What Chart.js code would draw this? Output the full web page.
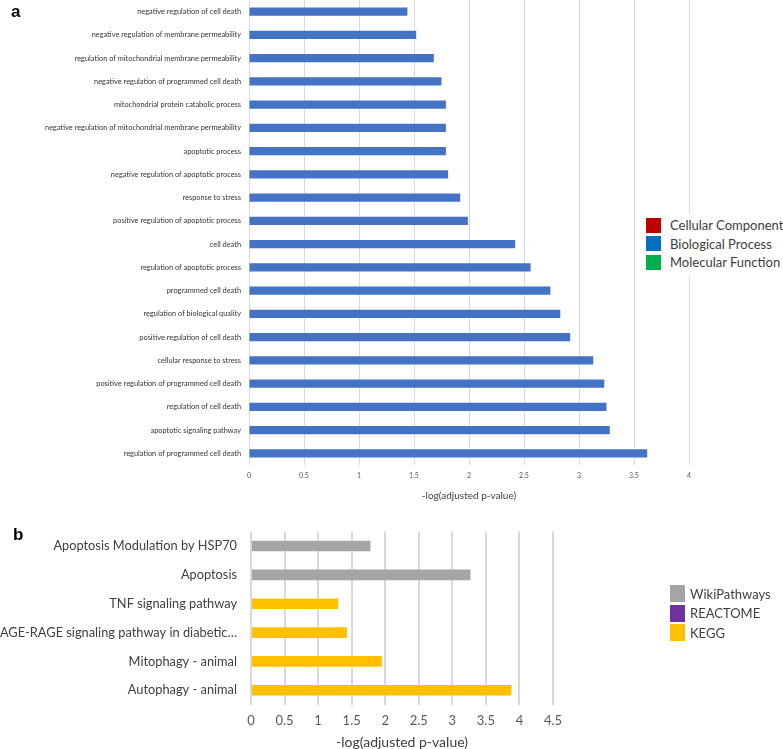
<!DOCTYPE html>
<html>
<head>
<meta charset="utf-8">
<script src="https://cdn.jsdelivr.net/npm/chart.js@4.4.1/dist/chart.umd.min.js"></script>
<style>
  html, body { margin: 0; padding: 0; background: #fff; }
  body { width: 783px; height: 749px; position: relative; overflow: hidden; font-family: Lato, "Open Sans", sans-serif; }
  .wrap { position: absolute; left: 0; width: 783px; }
  .panel { position: absolute; font-family: "Liberation Sans", Arial, sans-serif; font-weight: bold; font-size: 17px; color: #000; }
  .legend { position: absolute; background: #fff; font-family: Lato, sans-serif; font-size: 13px; color: #404040; }
  .legend .row { display: flex; align-items: center; white-space: nowrap; }
  .legend .sw { display: inline-block; }
</style>
</head>
<body>
<div class="wrap" style="top:0;height:510px;"><canvas id="chartA"></canvas></div>
<div class="wrap" style="top:510px;height:239px;"><canvas id="chartB"></canvas></div>
<div class="panel" style="left:11px;top:2px;">a</div>
<div class="panel" style="left:13px;top:525px;">b</div>
<div class="legend" id="legendA" style="left:644px;top:214px;padding:2px 0 4px 2px;"></div>
<div class="legend" id="legendB" style="left:670px;top:584px;"></div>
<script>
// ---------- Panel a data ----------
const goTerms = [
  "negative regulation of cell death",
  "negative regulation of membrane permeability",
  "regulation of mitochondrial membrane permeability",
  "negative regulation of programmed cell death",
  "mitochondrial protein catabolic process",
  "negative regulation of mitochondrial membrane permeability",
  "apoptotic process",
  "negative regulation of apoptotic process",
  "response to stress",
  "positive regulation of apoptotic process",
  "cell death",
  "regulation of apoptotic process",
  "programmed cell death",
  "regulation of biological quality",
  "positive regulation of cell death",
  "cellular response to stress",
  "positive regulation of programmed cell death",
  "regulation of cell death",
  "apoptotic signaling pathway",
  "regulation of programmed cell death"
];
const goValues = [1.44, 1.52, 1.68, 1.75, 1.79, 1.79, 1.79, 1.81, 1.92, 1.99,
                  2.42, 2.56, 2.74, 2.83, 2.92, 3.13, 3.23, 3.25, 3.28, 3.62];
const goLegend = ["Cellular Component", "Biological Process", "Molecular Function"];
const goLegendColors = ["#C00000", "#0070C0", "#00B050"];
const goTicksMax = 4;

// ---------- Panel b data ----------
const pathwayTerms = [
  "Apoptosis Modulation by HSP70",
  "Apoptosis",
  "TNF signaling pathway",
  "AGE-RAGE signaling pathway in diabetic…",
  "Mitophagy - animal",
  "Autophagy - animal"
];
const wikiValues     = [1.78, 3.27, null, null, null, null];
const reactomeValues = [null, null, null, null, null, null];
const keggValues     = [null, null, 1.30, 1.43, 1.95, 3.88];
const pathwayLegend = ["WikiPathways", "REACTOME", "KEGG"];
const pathwayColors = ["#A5A5A5", "#7030A0", "#FFC000"];
const pathwayTicksMax = 4.5;

const axisTitle = "-log(adjusted p-value)";
const fmtTick = v => String(Number(Number(v).toFixed(2)));

// ---------- Chart a ----------
new Chart(document.getElementById('chartA'), {
  type: 'bar',
  data: {
    labels: goTerms,
    datasets: [{
      label: goLegend[1],
      data: goValues,
      backgroundColor: '#4472C4',
      borderWidth: 0,
      barPercentage: 0.35,
      categoryPercentage: 1
    }]
  },
  options: {
    indexAxis: 'y',
    responsive: true,
    maintainAspectRatio: false,
    animation: false,
    layout: { padding: { left: 0, right: 94, top: 0, bottom: 0 } },
    plugins: { legend: { display: false }, tooltip: { enabled: false } },
    scales: {
      x: {
        min: 0, max: goTicksMax,
        ticks: { stepSize: 0.5, font: { family: 'Lato', size: 7 }, color: '#595959', padding: 7, callback: fmtTick },
        grid: { color: '#d9d9d9', lineWidth: 1, drawTicks: false },
        border: { display: false },
        title: { display: true, text: axisTitle, font: { family: 'Lato', size: 10 }, color: '#404040', padding: { top: 0, bottom: 8 } },
        afterFit(s) { s.height = 45; s.paddingLeft = 0; s.paddingRight = 0; }
      },
      y: {
        grid: { display: false, drawTicks: false },
        border: { display: false },
        ticks: { autoSkip: false, font: { family: 'Lato', size: 7.4 }, color: '#333333', padding: 8 },
        afterFit(s) { s.width = 249; s.paddingTop = 0; s.paddingBottom = 0; }
      }
    }
  }
});

// ---------- Chart b ----------
const pathwaySeries = [wikiValues, reactomeValues, keggValues];
new Chart(document.getElementById('chartB'), {
  type: 'bar',
  data: {
    labels: pathwayTerms,
    datasets: pathwaySeries.map((vals, i) => ({
      label: pathwayLegend[i],
      data: vals,
      backgroundColor: pathwayColors[i],
      borderWidth: 0,
      grouped: false,
      barPercentage: 0.37,
      categoryPercentage: 1
    }))
  },
  options: {
    indexAxis: 'y',
    responsive: true,
    maintainAspectRatio: false,
    animation: false,
    layout: { padding: { left: 0, right: 230, top: 21.6, bottom: 0 } },
    plugins: { legend: { display: false }, tooltip: { enabled: false } },
    scales: {
      x: {
        min: 0, max: pathwayTicksMax,
        ticks: { stepSize: 0.5, font: { family: 'Lato', size: 13 }, color: '#595959', padding: 8, callback: fmtTick },
        grid: { color: '#d9d9d9', lineWidth: 2, drawTicks: false },
        border: { display: false },
        title: { display: true, text: axisTitle, font: { family: 'Lato', size: 14, lineHeight: 1 }, color: '#404040', padding: { top: 0, bottom: 0 } },
        afterFit(s) { s.height = 44.3; s.paddingLeft = 0; s.paddingRight = 0; }
      },
      y: {
        grid: { display: false, drawTicks: false },
        border: { display: false },
        ticks: { autoSkip: false, font: { family: 'Lato', size: 12.8 }, color: '#404040', padding: 14 },
        afterFit(s) { s.width = 251; s.paddingTop = 0; s.paddingBottom = 0; }
      }
    }
  }
});

// ---------- Legends ----------
function buildLegend(id, names, colors, sw, rowH, gap) {
  const el = document.getElementById(id);
  names.forEach((n, i) => {
    const row = document.createElement('div');
    row.className = 'row';
    row.style.height = rowH + 'px';
    const s = document.createElement('span');
    s.className = 'sw';
    s.style.width = sw[0] + 'px';
    s.style.height = sw[1] + 'px';
    s.style.marginRight = gap + 'px';
    s.style.background = colors[i];
    const t = document.createElement('span');
    t.textContent = n;
    row.appendChild(s);
    row.appendChild(t);
    el.appendChild(row);
  });
}
buildLegend('legendA', goLegend, goLegendColors, [15, 15], 18.5, 9);
buildLegend('legendB', pathwayLegend, pathwayColors, [15, 17], 19.5, 5);
</script>
</body>
</html>
